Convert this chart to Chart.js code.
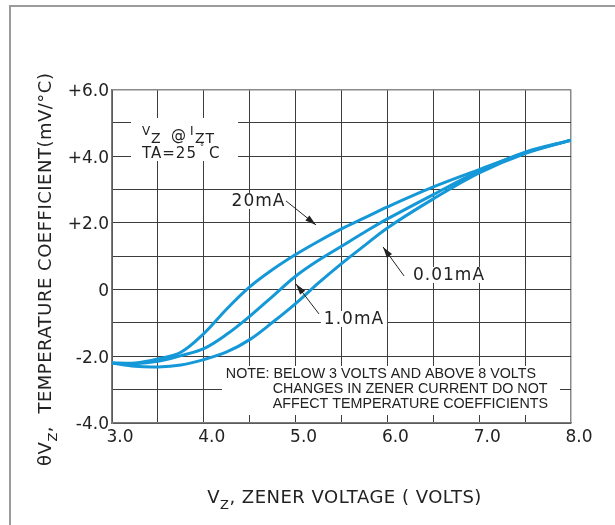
<!DOCTYPE html>
<html><head><meta charset="utf-8">
<script src="https://cdn.jsdelivr.net/npm/chart.js@4/dist/chart.umd.min.js"></script>
<style>
html,body{margin:0;padding:0;background:#fff;}
#wrap{position:relative;width:615px;height:525px;overflow:hidden;background:#fff;}
#frame{position:absolute;left:9px;top:5px;width:700px;height:600px;border-left:2px solid #9b9b9b;border-top:2px solid #9b9b9b;}
canvas{position:absolute;left:0;top:0;}
</style></head><body>
<div id="wrap"><div id="frame"></div><canvas id="c" width="615" height="525"></canvas></div>
<script>
// Zener voltage (V)
const voltage = [3.0, 3.25, 3.5, 3.75, 4.0, 4.25, 4.5, 4.75, 5.0, 5.25, 5.5, 5.75, 6.0, 6.5, 7.0, 7.5, 8.0];
// Temperature coefficient (mV/°C) for each test current
const tc20mA  = [-2.2, -2.2, -2.08, -1.88, -1.32, -0.58, 0.08, 0.6, 1.05, 1.45, 1.82, 2.15, 2.48, 3.08, 3.6, 4.1, 4.48];
const tc1mA   = [-2.2, -2.22, -2.15, -1.98, -1.77, -1.34, -0.8, -0.2, 0.4, 0.88, 1.3, 1.72, 2.12, 2.85, 3.55, 4.12, 4.48];
const tc001mA = [-2.2, -2.3, -2.32, -2.26, -2.1, -1.87, -1.5, -0.98, -0.42, 0.2, 0.78, 1.32, 1.85, 2.72, 3.5, 4.08, 4.48];
const seriesNames = ['20mA', '1.0mA', '0.01mA'];
// tick labels
const xTickValues = [3, 4, 5, 6, 7, 8];
const xTickText   = ['3.0', '4.0', '5.0', '6.0', '7.0', '8.0'];
const yTickValues = [6, 4, 2, 0, -2, -4];
const yTickText   = ['+6.0', '+4.0', '+2.0', '0', '-2.0', '-4.0'];
// note text
const noteLines = ['NOTE: BELOW 3 VOLTS AND ABOVE 8 VOLTS', 'CHANGES IN ZENER CURRENT DO NOT', 'AFFECT TEMPERATURE COEFFICIENTS'];

const BLUE = '#1598d8';
const toPts = (ys) => voltage.map((v, i) => ({x: v, y: ys[i]}));

// label anchors in data units: text center, arrow start, arrow tip
const callouts = [
  {text: seriesNames[0], cx: 4.596, cy: 2.66, ax: 4.895, ay: 2.66, bx: 5.222, by: 1.94},
  {text: seriesNames[2], cx: 6.671, cy: 0.44, ax: 6.181, ay: 0.41, bx: 5.952, by: 1.28},
  {text: seriesNames[1], cx: 5.636, cy: -0.88, ax: 5.255, ay: -0.73, bx: 5.004, by: 0.17}
];

function spaced(ctx, px) { if ('letterSpacing' in ctx) ctx.letterSpacing = px; }

const decor = {
  id: 'decor',
  beforeDatasetsDraw(chart) {
    const {ctx, scales: {x, y}} = chart;
    ctx.save();
    ctx.fillStyle = '#fff';
    let l = x.getPixelForValue(3.207), r = x.getPixelForValue(4.373);
    let t = y.getPixelForValue(5.145), b = y.getPixelForValue(3.856);
    ctx.fillRect(l, t, r - l, b - t);
    l = x.getPixelForValue(4.198); r = x.getPixelForValue(7.88);
    t = y.getPixelForValue(-2.29); b = y.getPixelForValue(-3.76);
    ctx.fillRect(l, t, r - l, b - t);
    ctx.font = '17px "DejaVu Sans"';
    spaced(ctx, '1px');
    callouts.forEach(c => {
      const w = ctx.measureText(c.text).width;
      const px = x.getPixelForValue(c.cx), py = y.getPixelForValue(c.cy);
      ctx.fillRect(px - w / 2 - 3, py - 8, w + 6, 16);
    });
    ctx.restore();
  },
  afterDatasetsDraw(chart) {
    const {ctx, scales: {x, y}, chartArea} = chart;
    ctx.save();
    ctx.fillStyle = '#222';
    ctx.strokeStyle = '#222';
    ctx.font = '17px "DejaVu Sans"';
    spaced(ctx, '1px');
    ctx.textAlign = 'center';
    ctx.textBaseline = 'middle';
    callouts.forEach(c => {
      const px = x.getPixelForValue(c.cx), py = y.getPixelForValue(c.cy);
      ctx.fillText(c.text, px, py + 1);
      const ax = x.getPixelForValue(c.ax), ay = y.getPixelForValue(c.ay);
      const bx = x.getPixelForValue(c.bx), by = y.getPixelForValue(c.by);
      ctx.lineWidth = 1;
      ctx.beginPath(); ctx.moveTo(ax, ay); ctx.lineTo(bx, by); ctx.stroke();
      const ang = Math.atan2(by - ay, bx - ax), L = 11, W = 3.2;
      ctx.beginPath();
      ctx.moveTo(bx, by);
      ctx.lineTo(bx - L * Math.cos(ang) + W * Math.sin(ang), by - L * Math.sin(ang) - W * Math.cos(ang));
      ctx.lineTo(bx - L * Math.cos(ang) - W * Math.sin(ang), by - L * Math.sin(ang) + W * Math.cos(ang));
      ctx.closePath(); ctx.fill();
    });
    // legend text
    ctx.textAlign = 'left';
    ctx.textBaseline = 'alphabetic';
    const lx = x.getPixelForValue(3.327), lyb = y.getPixelForValue(3.946);
    spaced(ctx, '1px');
    ctx.font = '15px "DejaVu Sans"';
    ctx.fillText('TA=25', lx, lyb);
    let w = ctx.measureText('TA=25').width;
    ctx.font = '8px "DejaVu Sans"';
    ctx.fillText('°', lx + w + 3, lyb - 8);
    ctx.font = '15px "DejaVu Sans"';
    ctx.fillText('C', lx + w + 12, lyb);
    const ly1 = lyb - 23;
    ctx.font = '12px "DejaVu Sans"';
    ctx.fillText('V', lx, ly1);
    ctx.font = '14px "DejaVu Sans"';
    ctx.fillText('Z', lx + 9, ly1 + 8);
    ctx.font = '15px "DejaVu Sans"';
    ctx.fillText('@', lx + 29, ly1 + 5);
    ctx.font = '12px "DejaVu Sans"';
    ctx.fillText('I', lx + 48, ly1);
    ctx.font = '14px "DejaVu Sans"';
    ctx.fillText('ZT', lx + 53, ly1 + 8);
    // note
    spaced(ctx, '0px');
    ctx.font = '14.3px "Liberation Sans", Arial, sans-serif';
    const nx1 = x.getPixelForValue(4.24), nx2 = x.getPixelForValue(4.75);
    const nb = [-2.66, -3.11, -3.56].map(v => y.getPixelForValue(v));
    ctx.fillText(noteLines[0], nx1, nb[0]);
    ctx.fillText(noteLines[1], nx2, nb[1]);
    ctx.fillText(noteLines[2], nx2, nb[2]);
    // x axis title
    spaced(ctx, '0.5px');
    const xf = '18px "DejaVu Sans"', xs = '13px "DejaVu Sans"';
    ctx.font = xf; const w1 = ctx.measureText('V').width;
    ctx.font = xs; const w2 = ctx.measureText('Z').width;
    ctx.font = xf; const rest = ', ZENER VOLTAGE ( VOLTS)'; const w3 = ctx.measureText(rest).width;
    const tot = w1 + w2 + w3;
    const sx = (chartArea.left + chartArea.right) / 2 + 3 - tot / 2;
    const by0 = chartArea.bottom + 80;
    ctx.font = xf; ctx.fillText('V', sx, by0);
    ctx.font = xs; ctx.fillText('Z', sx + w1, by0 + 6);
    ctx.font = xf; ctx.fillText(rest, sx + w1 + w2, by0);
    // y axis title (rotated)
    ctx.save();
    const cx = chartArea.left - 61, cyc = (chartArea.top + chartArea.bottom) / 2 + 13;
    ctx.translate(cx, cyc);
    ctx.rotate(-Math.PI / 2);
    ctx.font = xf; const a1 = ctx.measureText('θV').width;
    ctx.font = xs; const a2 = ctx.measureText('Z').width;
    ctx.font = xf; const yrest = ',  TEMPERATURE COEFFICIENT(mV/°C)'; const a3 = ctx.measureText(yrest).width;
    const s = -(a1 + a2 + a3) / 2;
    ctx.font = xf; ctx.fillText('θV', s, 0);
    ctx.font = xs; ctx.fillText('Z', s + a1, 6);
    ctx.font = xf; ctx.fillText(yrest, s + a1 + a2, 0);
    ctx.restore();
    ctx.restore();
  }
};

new Chart(document.getElementById('c'), {
  type: 'line',
  data: {
    datasets: [
      {label: seriesNames[0], data: toPts(tc20mA)},
      {label: seriesNames[1], data: toPts(tc1mA)},
      {label: seriesNames[2], data: toPts(tc001mA)}
    ].map(d => Object.assign(d, {borderColor: BLUE, borderWidth: 3, pointRadius: 0, fill: false, tension: 0.35}))
  },
  options: {
    responsive: false,
    animation: false,
    devicePixelRatio: 1,
    layout: {padding: {left: 0, top: 89.5, right: 44, bottom: 0}},
    plugins: {legend: {display: false}, tooltip: {enabled: false}, title: {display: false}},
    scales: {
      x: {
        type: 'linear', min: 3, max: 8,
        afterFit: (s) => { s.height = 102; },
        grid: {color: (c) => (c.tick && c.tick.value === 8) ? '#8a8a8a' : '#3c3c3c', lineWidth: (c) => (c.tick && c.tick.value === 8) ? 1.5 : 1, drawTicks: false},
        border: {display: true, color: '#7a7a7a', width: 1.5},
        ticks: {
          stepSize: 0.5, autoSkip: false, maxRotation: 0, padding: 4, labelOffset: 8,
          color: '#222', font: {family: 'DejaVu Sans', size: 17},
          callback: (v) => { const i = xTickValues.indexOf(v); return i >= 0 ? xTickText[i] : ''; }
        }
      },
      y: {
        min: -4, max: 6,
        afterFit: (s) => { s.width = 112; },
        grid: {color: (c) => (c.tick && c.tick.value === 6) ? '#8a8a8a' : '#3c3c3c', lineWidth: (c) => (c.tick && c.tick.value === 6) ? 1.5 : 1, drawTicks: false},
        border: {display: true, color: '#7a7a7a', width: 1.5},
        ticks: {
          stepSize: 1, autoSkip: false, padding: 3, labelOffset: 2,
          color: '#222', font: {family: 'DejaVu Sans', size: 17},
          callback: (v) => { const i = yTickValues.indexOf(v); return i >= 0 ? yTickText[i] : ''; }
        }
      }
    }
  },
  plugins: [decor]
});
</script>
</body></html>
